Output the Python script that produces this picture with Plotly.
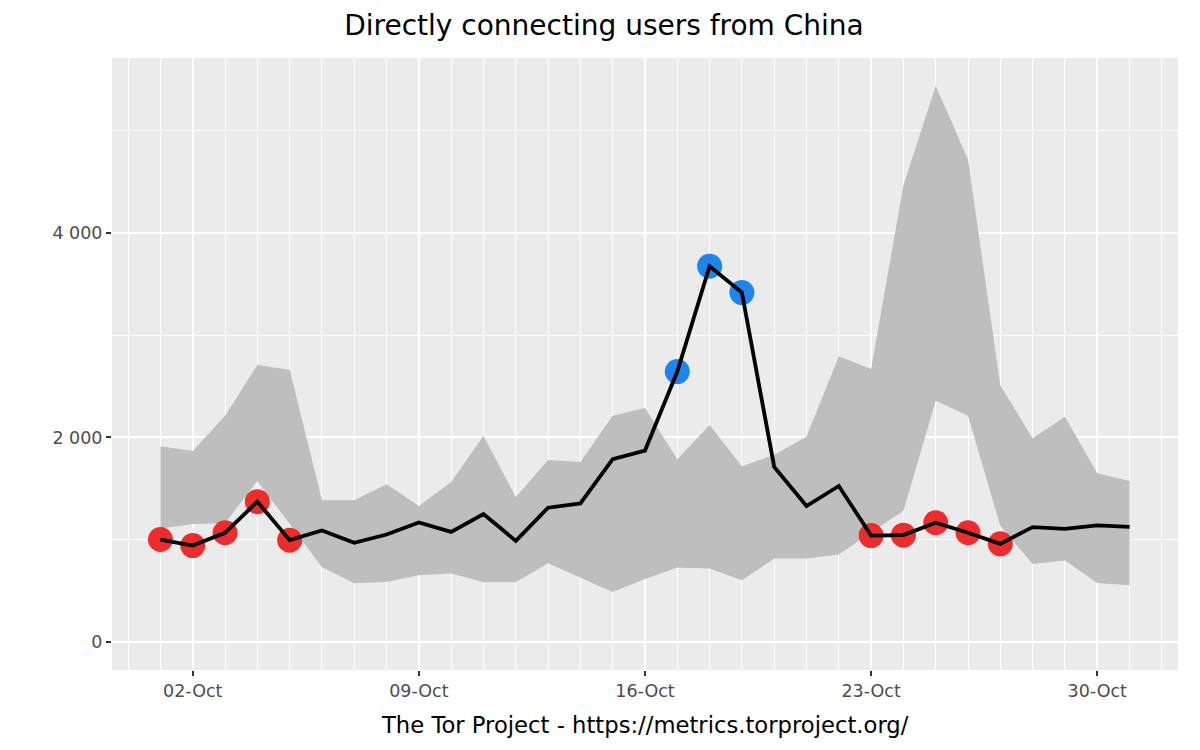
import pandas as pd
import plotly.graph_objects as go

dates = pd.date_range("2019-10-01", "2019-10-31", freq="D")
users = [1003, 944, 1069, 1373, 997, 1092, 971, 1052, 1170, 1078, 1252, 990, 1314, 1356, 1788, 1872,
         2644, 3674, 3416, 1712, 1330, 1526, 1042, 1046, 1167, 1069, 961, 1124, 1108, 1141, 1127]
upper = [1915, 1869, 2212, 2709, 2663, 1386, 1386, 1542, 1330, 1565, 2016, 1415, 1781, 1761, 2212, 2288,
         1788, 2121, 1719, 1830, 2010, 2794, 2670, 4465, 5436, 4715, 2507, 1993, 2203, 1650, 1575]
lower = [1111, 1154, 1163, 1575, 1154, 732, 575, 588, 654, 670, 585, 585, 771, 631, 490, 618,
         729, 719, 605, 817, 817, 856, 1075, 1281, 2359, 2212, 1134, 765, 797, 578, 556]

x_tick_dates = ["2019-10-02", "2019-10-09", "2019-10-16", "2019-10-23", "2019-10-30"]
x_tick_labels = ["02-Oct", "09-Oct", "16-Oct", "23-Oct", "30-Oct"]
y_tick_vals = [0, 2000, 4000]
y_tick_labels = ["0", "2 000", "4 000"]

title = "Directly connecting users from China"
caption = "The Tor Project - https://metrics.torproject.org/"

FONT = "DejaVu Sans"
RED = "#EE2C2C"
BLUE = "#1C86EE"

low_pts = [(d, u) for d, u, lo in zip(dates, users, lower) if u < lo]
high_pts = [(d, u) for d, u, hi in zip(dates, users, upper) if u > hi]

fig = go.Figure()
fig.add_trace(go.Scatter(x=dates, y=lower, mode="lines", line=dict(width=0),
                         hoverinfo="skip", showlegend=False))
fig.add_trace(go.Scatter(x=dates, y=upper, mode="lines", line=dict(width=0),
                         fill="tonexty", fillcolor="#BEBEBE", hoverinfo="skip", showlegend=False))
fig.add_trace(go.Scatter(x=[p[0] for p in low_pts], y=[p[1] for p in low_pts], mode="markers",
                         marker=dict(color=RED, size=25, line=dict(width=0)), showlegend=False))
fig.add_trace(go.Scatter(x=[p[0] for p in high_pts], y=[p[1] for p in high_pts], mode="markers",
                         marker=dict(color=BLUE, size=25, line=dict(width=0)), showlegend=False))
fig.add_trace(go.Scatter(x=dates, y=users, mode="lines",
                         line=dict(color="black", width=3.8), showlegend=False))

span = (dates[-1] - dates[0])
pad = span * 0.05
ymax = max(upper)
ypad = (ymax - 0) * 0.05

fig.update_layout(
    width=1192, height=742,
    paper_bgcolor="white", plot_bgcolor="#EBEBEB",
    margin=dict(l=104, r=22, t=50, b=80),
    title=dict(text=title, x=0.5, xanchor="center", y=0.977, yanchor="middle",
               font=dict(family=FONT, size=28, color="black")),
    font=dict(family=FONT),
    annotations=[dict(text=caption, xref="paper", yref="paper", x=0.5, y=-0.09,
                      xanchor="center", yanchor="middle", showarrow=False,
                      font=dict(family=FONT, size=22.7, color="black"))],
)
fig.update_xaxes(
    type="date", range=[dates[0] - pad, dates[-1] + pad],
    tickmode="array", tickvals=x_tick_dates, ticktext=x_tick_labels,
    showgrid=True, gridcolor="white", gridwidth=2,
    ticks="outside", ticklen=5, tickwidth=1.5, tickcolor="#333333",
    tickfont=dict(family=FONT, size=17.5, color="#4D4D4D"),
    minor=dict(dtick=86400000, tick0="2019-09-30", showgrid=True, gridcolor="white", gridwidth=1, ticks=""),
    zeroline=False, showline=False,
)
fig.update_yaxes(
    range=[0 - ypad, ymax + ypad],
    tickmode="array", tickvals=y_tick_vals, ticktext=y_tick_labels,
    showgrid=True, gridcolor="white", gridwidth=2,
    ticks="outside", ticklen=5, tickwidth=1.5, tickcolor="#333333",
    tickfont=dict(family=FONT, size=17.5, color="#4D4D4D"),
    minor=dict(dtick=1000, tick0=0, showgrid=True, gridcolor="white", gridwidth=1, ticks=""),
    zeroline=False, showline=False,
)

fig.write_html("out.html")
